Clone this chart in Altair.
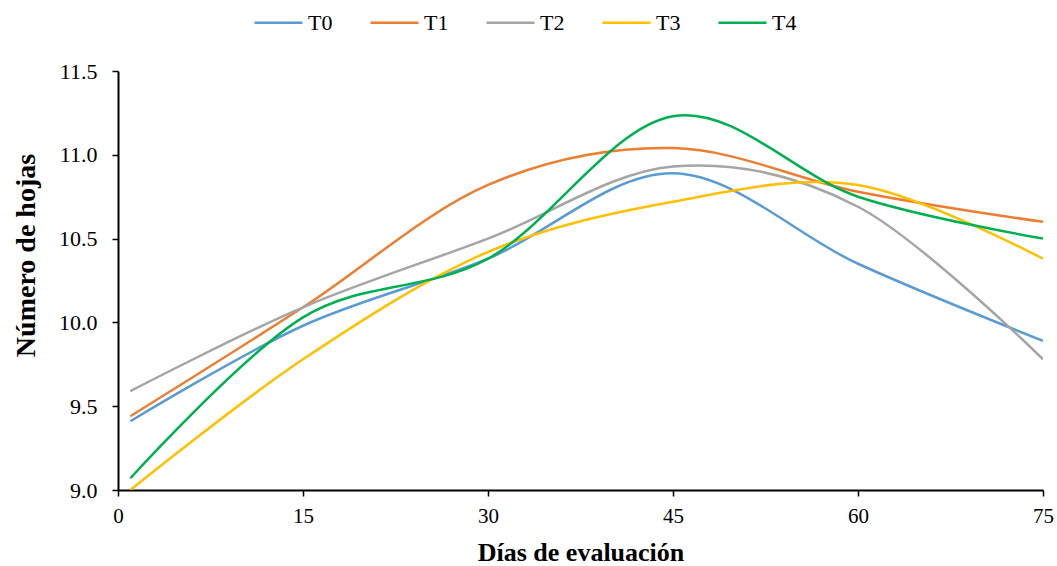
import altair as alt
import pandas as pd

days = [1, 15, 30, 45, 60, 75]
series_names = ["T0", "T1", "T2", "T3", "T4"]
t0 = [9.41, 9.98, 10.38, 10.89, 10.35, 9.89]
t1 = [9.44, 10.09, 10.82, 11.04, 10.78, 10.60]
t2 = [9.59, 10.09, 10.50, 10.93, 10.69, 9.78]
t3 = [9.00, 9.78, 10.42, 10.72, 10.82, 10.38]
t4 = [9.07, 10.03, 10.38, 11.23, 10.75, 10.50]
colors = ["#5B9BD5", "#ED7D31", "#A5A5A5", "#FFC000", "#00B050"]

rows = []
for name, vals in zip(series_names, [t0, t1, t2, t3, t4]):
    for d, v in zip(days, vals):
        rows.append({"dia": d, "valor": v, "serie": name})
df = pd.DataFrame(rows)

font = "Liberation Serif"

chart = alt.Chart(df).mark_line(
    interpolate="cardinal", strokeWidth=2.5, clip=True
).encode(
    x=alt.X("dia:Q", title="Días de evaluación",
            scale=alt.Scale(domain=[0, 75], nice=False),
            axis=alt.Axis(values=[0, 15, 30, 45, 60, 75], grid=False,
                          domainColor="black", domainWidth=2, tickColor="black",
                          tickWidth=1.5, tickSize=6, labelFontSize=21,
                          labelFont=font, labelColor="black", labelPadding=9,
                          labelFlush=False,
                          titleFont=font, titleFontSize=26, titleFontWeight="bold",
                          titleColor="black", titlePadding=13)),
    y=alt.Y("valor:Q", title="Número de hojas",
            scale=alt.Scale(domain=[9.0, 11.5], nice=False, zero=False),
            axis=alt.Axis(values=[9.0, 9.5, 10.0, 10.5, 11.0, 11.5], format=".1f",
                          grid=False, domainColor="black", domainWidth=2,
                          tickColor="black", tickWidth=1.5, tickSize=6,
                          labelFontSize=22, labelFont=font, labelColor="black",
                          labelPadding=15, labelFlush=False,
                          titleFont=font, titleFontSize=28,
                          titleFontWeight="bold", titleColor="black", titlePadding=18,
                          titleY=184)),
    color=alt.Color("serie:N", title=None,
                    scale=alt.Scale(domain=series_names, range=colors),
                    legend=alt.Legend(orient="none", direction="horizontal",
                                      legendX=135, legendY=-74,
                                      symbolType="stroke", symbolSize=2304,
                                      symbolStrokeWidth=2.5, labelFontSize=22,
                                      labelFont=font, labelColor="black",
                                      labelOffset=4, columnPadding=32)),
).properties(
    width=925, height=419,
    autosize=alt.AutoSizeParams(type="none"),
    padding={"left": 118, "top": 71, "right": 14, "bottom": 76},
).configure_view(stroke=None)

chart.save("out.html", embed_options={"renderer": "svg", "actions": False})
